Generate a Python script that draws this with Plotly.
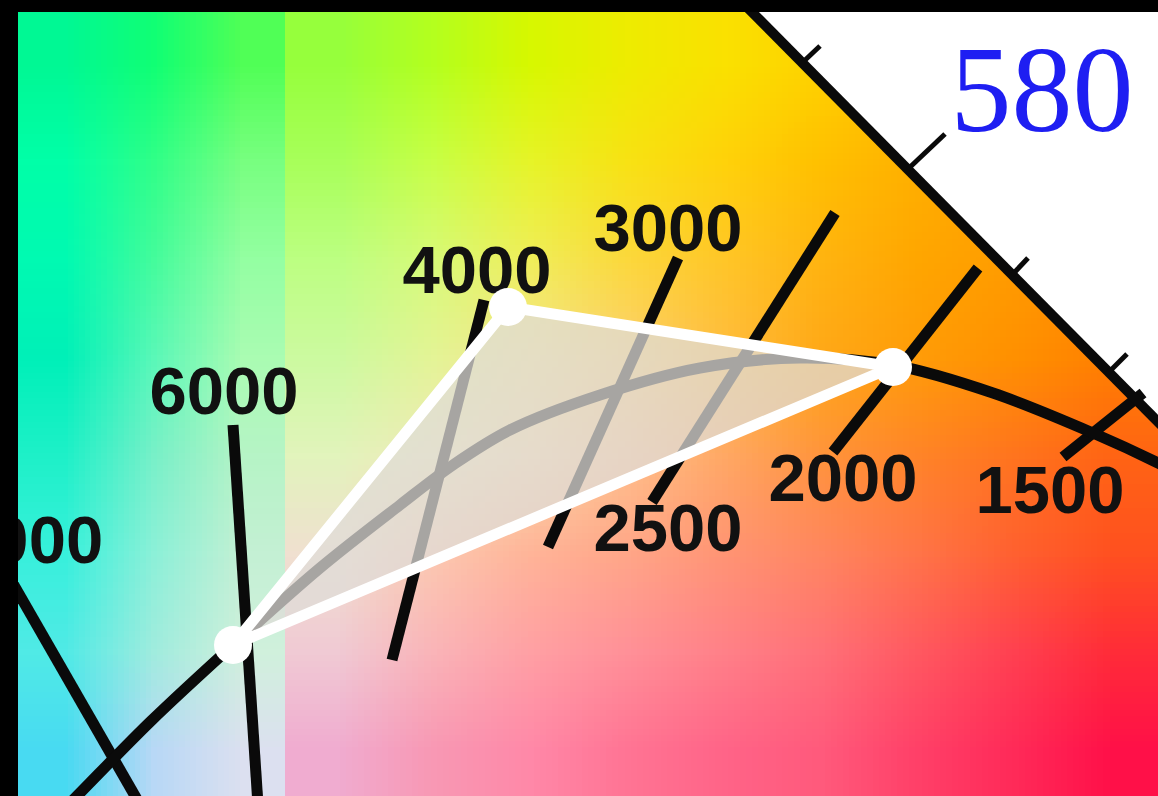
import zlib, struct, base64
import plotly.graph_objects as go

# ---- data (CIE 1931 x,y chromaticity) ----
planck_x = [0.2696, 0.2777, 0.2996, 0.3245, 0.3506, 0.3746, 0.3905, 0.4076,
            0.4346, 0.4646, 0.4946, 0.5225, 0.5525, 0.5825, 0.6020, 0.6116]
planck_y = [0.2767, 0.2848, 0.3070, 0.3301, 0.3532, 0.3721, 0.3841, 0.3946,
            0.4051, 0.4132, 0.4162, 0.4141, 0.4057, 0.3937, 0.3847, 0.3796]

cct_labels = ["10000", "6000", "4000", "3000", "2500", "2000", "1500"]
iso_x0 = [0.2546, 0.3245, 0.3998, 0.4580, 0.5051, 0.5480, 0.5975]
iso_y0 = [0.3553, 0.3961, 0.4336, 0.4462, 0.4597, 0.4432, 0.4057]
iso_x1 = [0.2996, 0.3323, 0.3722, 0.4190, 0.4502, 0.5045, 0.5735]
iso_y1 = [0.2770, 0.2776, 0.3256, 0.3595, 0.3730, 0.3880, 0.3865]
label_x = [0.2576, 0.3218, 0.3977, 0.4550, 0.4550, 0.5075, 0.5696]
label_y = [0.3596, 0.4043, 0.4406, 0.4532, 0.3632, 0.3782, 0.3746]

spectral_x = [0.4766, 0.6056]
spectral_y = [0.5236, 0.3934]
outside_x = [0.4766, 0.6056, 0.6100, 0.6100, 0.4766]
outside_y = [0.5236, 0.3934, 0.3934, 0.5300, 0.5300]

tick_x0 = [0.4955, 0.5270, 0.5582, 0.5870]
tick_y0 = [0.5050, 0.4729, 0.4411, 0.4117]
tick_x1 = [0.5006, 0.5381, 0.5630, 0.5927]
tick_y1 = [0.5098, 0.4834, 0.4462, 0.4174]
wl_label = "580"
wl_label_x = 0.5672
wl_label_y = 0.4936

gamut_x = [0.4070, 0.5225, 0.3245]
gamut_y = [0.4315, 0.4135, 0.3301]

# background colour samples of the diagram (two blocks)
left_bg = [
    ["#00f894", "#10ff74", "#50ff56"],
    ["#00ffa8", "#30ff88", "#78ff80"],
    ["#00fab2", "#44fc9c", "#94ffa2"],
    ["#00f0b8", "#5af8b8", "#aafcb2"],
    ["#1ef0c8", "#78f0c8", "#b6f4c6"],
    ["#38f0dc", "#8cf0d8", "#c4f0d4"],
    ["#50eae6", "#a0ecde", "#d0f0dc"],
    ["#48daf2", "#b8d8f6", "#dce0f0"],
]
right_bg = [
    ["#96ff3c", "#b4ff1e", "#d7f800", "#eeec00", "#fae100", "#ffd200", "#ffc300", "#ffb900", "#ffaf00"],
    ["#a8ff5a", "#c8ff46", "#e6f428", "#f8e214", "#ffd20a", "#ffc000", "#ffb000", "#ffa400", "#ff9800"],
    ["#bcff82", "#d8fa78", "#f0ee5a", "#fcd83c", "#ffc628", "#ffb410", "#ffa600", "#ff9c00", "#ff9000"],
    ["#ccfaa0", "#e4f496", "#f6e48c", "#fcd070", "#ffbc40", "#ffa818", "#ff9c08", "#ff9000", "#ff8000"],
    ["#e2f4bc", "#f0eab8", "#fad8a8", "#ffc08c", "#ffa864", "#ff943c", "#ff8428", "#ff741e", "#ff6414"],
    ["#f0e0d0", "#fcc8b0", "#ffb498", "#ffa688", "#ff9474", "#ff8660", "#ff7448", "#ff6030", "#ff5020"],
    ["#f0cad4", "#fab4b8", "#ffa0a4", "#ff9098", "#ff8088", "#ff7078", "#ff5860", "#ff4050", "#ff2c38"],
    ["#f0acd0", "#f898b4", "#ff88a8", "#ff7494", "#ff6488", "#ff5a7c", "#ff4068", "#ff2a58", "#ff1048"],
]

X_MIN, X_MAX = 0.26, 0.602
Y_MIN, Y_MAX = 0.2848, 0.52
X_SPLIT = 0.3401


def png_uri(rows):
    raw = b""
    for row in rows:
        raw += b"\x00" + bytes(int(c[i:i + 2], 16) for c in row for i in (1, 3, 5))

    def chunk(t, d):
        return struct.pack(">I", len(d)) + t + d + struct.pack(">I", zlib.crc32(t + d) & 0xffffffff)

    png = (b"\x89PNG\r\n\x1a\n"
           + chunk(b"IHDR", struct.pack(">IIBBBBB", len(rows[0]), len(rows), 8, 2, 0, 0, 0))
           + chunk(b"IDAT", zlib.compress(raw))
           + chunk(b"IEND", b""))
    return "data:image/png;base64," + base64.b64encode(png).decode()


def segs(x0, y0, x1, y1):
    xs, ys = [], []
    for a, b, c, d in zip(x0, y0, x1, y1):
        xs += [a, c, None]
        ys += [b, d, None]
    return xs, ys


fig = go.Figure()

# region outside the spectral locus (white)
fig.add_trace(go.Scatter(x=outside_x, y=outside_y, fill="toself", fillcolor="#ffffff",
                         mode="lines", line=dict(width=0), hoverinfo="skip"))

# isotherms
ix, iy = segs(iso_x0, iso_y0, iso_x1, iso_y1)
fig.add_trace(go.Scatter(x=ix, y=iy, mode="lines", line=dict(color="#0a0a0a", width=11),
                         hoverinfo="skip"))
# Planckian locus
fig.add_trace(go.Scatter(x=planck_x, y=planck_y, mode="lines",
                         line=dict(color="#0a0a0a", width=11, shape="spline", smoothing=1.0),
                         hoverinfo="skip"))
# spectral locus + ticks
fig.add_trace(go.Scatter(x=spectral_x, y=spectral_y, mode="lines",
                         line=dict(color="#0a0a0a", width=10), hoverinfo="skip"))
tx, ty = segs(tick_x0, tick_y0, tick_x1, tick_y1)
fig.add_trace(go.Scatter(x=tx, y=ty, mode="lines", line=dict(color="#0a0a0a", width=5),
                         hoverinfo="skip"))

# labels
fig.add_trace(go.Scatter(x=label_x, y=label_y, mode="text", text=cct_labels,
                         textposition="middle center",
                         textfont=dict(family="Liberation Sans", size=67, color="#111111",
                                       weight="bold"),
                         hoverinfo="skip"))
fig.add_trace(go.Scatter(x=[wl_label_x], y=[wl_label_y], mode="text", text=[wl_label],
                         textposition="middle center",
                         textfont=dict(family="Liberation Serif", size=122, color="#1e1ef2"),
                         hoverinfo="skip"))

# gamut triangle
fig.add_trace(go.Scatter(x=gamut_x + [gamut_x[0]], y=gamut_y + [gamut_y[0]], mode="lines",
                         fill="toself", fillcolor="rgba(222,220,216,0.74)",
                         line=dict(color="#ffffff", width=11), hoverinfo="skip"))
fig.add_trace(go.Scatter(x=gamut_x, y=gamut_y, mode="markers",
                         marker=dict(color="#ffffff", size=38, line=dict(width=0)),
                         hoverinfo="skip"))

fig.update_layout(
    width=1158, height=796,
    margin=dict(l=18, r=0, t=12, b=0, pad=0),
    paper_bgcolor="#000000", plot_bgcolor="#ffffff",
    showlegend=False,
    xaxis=dict(range=[X_MIN, X_MAX], visible=False, fixedrange=True),
    yaxis=dict(range=[Y_MIN, Y_MAX], visible=False, fixedrange=True),
    images=[
        dict(source=png_uri(left_bg), xref="x", yref="y", x=X_MIN, y=Y_MAX,
             sizex=X_SPLIT - X_MIN, sizey=Y_MAX - Y_MIN, sizing="stretch",
             xanchor="left", yanchor="top", layer="below"),
        dict(source=png_uri(right_bg), xref="x", yref="y", x=X_SPLIT, y=Y_MAX,
             sizex=X_MAX - X_SPLIT, sizey=Y_MAX - Y_MIN, sizing="stretch",
             xanchor="left", yanchor="top", layer="below"),
    ],
)

fig.write_html("out.html", config={"displayModeBar": False},
               post_script="document.body.style.margin='0';"
                           "document.body.style.overflow='hidden';"
                           "document.body.style.background='#000';")
